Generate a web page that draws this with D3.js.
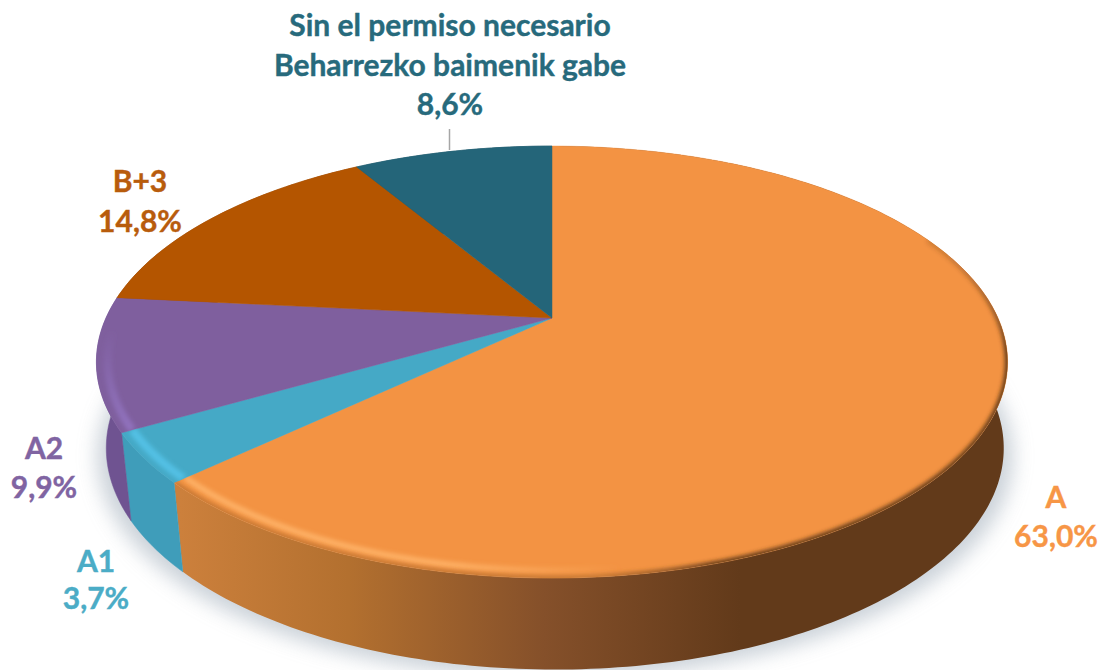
<!DOCTYPE html>
<html>
<head>
<meta charset="utf-8">
<script src="https://cdn.jsdelivr.net/npm/d3@7"></script>
<style>
  html, body { margin: 0; padding: 0; background: #fff; }
  text { font-family: Lato, "Open Sans", sans-serif; font-weight: 700; }
</style>
</head>
<body>
<svg id="chart" width="1099" height="670"></svg>
<script>
// values, clockwise from 12 o'clock
const names = ['A', 'A1', 'A2', 'B+3', 'Sin el permiso necesario|Beharrezko baimenik gabe'];
const values = [63.0, 3.7, 9.9, 14.8, 8.6];

const faceColors = ['#f39343', '#45a9c6', '#7f5f9e', '#b45500', '#246579'];
const sideColors = ['url(#sideA)', '#3f9dba', '#6f5391', '#8f4400', '#1c5060'];
const textColors = ['#f79646', '#4bacc6', '#8064a2', '#b85c0c', '#276a7c'];

// centre x and first baseline of each label block
const labelPos = [[1056, 508], [96, 572], [44, 459], [140, 192], [450, 36]];
const lineGap = [39, 37, 39, 40, 39.5];

const svg = d3.select('#chart');
const defs = svg.append('defs');

// the disc is a circle seen in perspective, so the apex is not the ellipse centre
const cx = 552, cy = 318, R = 446, K = 207, P = 0.204;
const top3d = a => {
    const w = 1 + P * Math.cos(a);
    return [cx + R * Math.sin(a) / w, cy - K * Math.cos(a) / w];
};
const bottom3d = a => {
    const p = top3d(a);
    return [cx + 3 + 0.985 * (p[0] - cx), 403 + 1.025 * (p[1] - cy)];
};

const line = d3.line();
const arcPts = (f, a0, a1) => {
    const n = Math.max(2, Math.ceil(Math.abs(a1 - a0) * 60));
    return d3.range(n + 1).map(i => f(a0 + (a1 - a0) * i / n));
};

const pie = d3.pie().sort(null).startAngle(0).endAngle(2 * Math.PI);
const slices = pie(values);
const fmt = d3.formatLocale({decimal: ',', thousands: '.', grouping: [3], currency: ['', '']}).format('.1f');

// filters and gradients
const blur = (id, s) => defs.append('filter').attr('id', id)
    .attr('filterUnits', 'userSpaceOnUse')
    .attr('x', 0).attr('y', 0).attr('width', 1099).attr('height', 670)
    .append('feGaussianBlur').attr('stdDeviation', s);
blur('shadowBlur', 10);
blur('rimBlur', 2.2);

const gradient = (id, x1, y1, x2, y2, stops) => {
    const g = defs.append('linearGradient').attr('id', id)
        .attr('gradientUnits', 'userSpaceOnUse')
        .attr('x1', x1).attr('y1', y1).attr('x2', x2).attr('y2', y2);
    stops.forEach(s => g.append('stop').attr('offset', s[0]).attr('stop-color', s[1]).attr('stop-opacity', s[2]));
};
gradient('sideA', 180, 0, 740, 0, [[0, '#cc803c', 1], [0.3, '#b3702f', 1], [0.65, '#85502a', 1], [1, '#623a1a', 1]]);
gradient('rimLight', 180, 0, 620, 0, [[0, '#ffb469', 0.9], [0.6, '#ffb469', 0.9], [1, '#ffb469', 0]]);
gradient('rimDark', 620, 590, 900, 180, [[0, '#b8702f', 0.8], [0.15, '#5a3416', 1], [0.84, '#5a3416', 1], [0.91, '#5a3416', 0.5], [0.95, '#5a3416', 0]]);
gradient('rimPurple', 0, 445, 0, 330, [[0, '#9375c2', 1], [1, '#9375c2', 0]]);

// shadow on the ground
svg.append('path')
    .attr('d', line(arcPts(a => {
        const p = bottom3d(a);
        return [cx + 1.02 * (p[0] - cx), p[1] + 8];
    }, 0, 2 * Math.PI)))
    .attr('fill', '#b4bec8')
    .attr('opacity', 0.7)
    .attr('filter', 'url(#shadowBlur)');

// side wall
svg.append('g').selectAll('path')
    .data(slices)
    .join('path')
    .attr('d', d => line(arcPts(top3d, d.startAngle, d.endAngle)
        .concat(arcPts(bottom3d, d.endAngle, d.startAngle))) + 'Z')
    .attr('fill', (d, i) => sideColors[i])
    .attr('stroke', (d, i) => i === 0 ? 'none' : sideColors[i])
    .attr('stroke-width', 0.5);

// top face
const facePath = d => line([[cx, cy]].concat(arcPts(top3d, d.startAngle, d.endAngle))) + 'Z';
svg.append('g').selectAll('path')
    .data(slices)
    .join('path')
    .attr('d', facePath)
    .attr('fill', (d, i) => faceColors[i])
    .attr('stroke', (d, i) => faceColors[i])
    .attr('stroke-width', 0.5);

slices.forEach((d, i) => {
    defs.append('clipPath').attr('id', 'clip' + i).append('path').attr('d', facePath(d));
});

// bevel along the front rim
const inset = (a, k) => {
    const p = top3d(a);
    return [cx + k * (p[0] - cx), cy + k * (p[1] - cy)];
};
const bevels = [
    {slice: 0, from: Math.PI * 0.9, to: slices[0].endAngle, k: 0.97, color: 'url(#rimLight)', width: 6},
    {slice: 0, from: 1.15, to: slices[0].endAngle, k: 1.0, color: 'url(#rimDark)', width: 5},
    {slice: 1, from: slices[1].startAngle, to: slices[1].endAngle, k: 0.975, color: '#52c0e4', width: 8},
    {slice: 2, from: slices[2].startAngle, to: slices[2].endAngle, k: 0.975, color: 'url(#rimPurple)', width: 8}
];
svg.append('g').selectAll('g')
    .data(bevels)
    .join('g')
    .attr('clip-path', b => `url(#clip${b.slice})`)
    .append('path')
    .attr('d', b => line(arcPts(a => inset(a, b.k), b.from, b.to)))
    .attr('fill', 'none')
    .attr('stroke', b => b.color)
    .attr('stroke-width', b => b.width)
    .attr('filter', 'url(#rimBlur)');

// leader line of the last label
svg.append('line')
    .attr('x1', 449.5).attr('x2', 449.5)
    .attr('y1', 129).attr('y2', 150)
    .attr('stroke', '#a6a6a6')
    .attr('stroke-width', 1.5);

// labels
const labels = svg.append('g').selectAll('text')
    .data(slices)
    .join('text')
    .attr('text-anchor', 'middle')
    .attr('font-size', 30)
    .attr('stroke-width', 0.4)
    .attr('fill', (d, i) => textColors[i])
    .attr('stroke', (d, i) => textColors[i]);

labels.each(function(d, i) {
    const rows = names[i].split('|').concat(fmt(d.value) + '%');
    d3.select(this).selectAll('tspan')
        .data(rows)
        .join('tspan')
        .attr('x', labelPos[i][0])
        .attr('y', (r, j) => labelPos[i][1] + j * lineGap[i])
        .text(r => r);
});
</script>
</body>
</html>
